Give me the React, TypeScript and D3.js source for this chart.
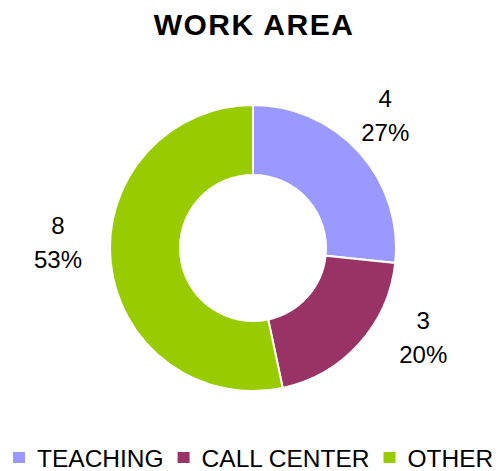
import React, { useEffect, useRef } from "react";
import * as d3 from "d3";

const categories = ["TEACHING", "CALL CENTER", "OTHER"];
const values = [4, 3, 8];
const colors = ["#9999FF", "#993366", "#99CC00"];
const title = "WORK AREA";

// layout constants
const W = 499;
const H = 471;
const CX = 253;
const CY = 248;
const R_OUT = 143;
const R_IN = 73;
const LABEL_R = 190;
const labelNudge: [number, number][] = [
  [-9, -14],
  [29, -46],
  [-6, -34],
];

export default function App() {
  const ref = useRef<SVGSVGElement | null>(null);

  useEffect(() => {
    document.body.style.margin = "0";
    const svg = d3.select(ref.current);
    svg.selectAll("*").remove();
    const font = "'Liberation Sans', Arial, sans-serif";

    svg
      .append("rect")
      .attr("width", W)
      .attr("height", H)
      .attr("fill", "#ffffff");

    svg
      .append("text")
      .attr("x", 254)
      .attr("y", 35)
      .attr("text-anchor", "middle")
      .attr("font-family", font)
      .attr("font-weight", "bold")
      .attr("font-size", 30)
      .attr("letter-spacing", 1.5)
      .attr("fill", "#000")
      .text(title);

    const total = d3.sum(values);
    const pie = d3
      .pie<number>()
      .sort(null)
      .value((d) => d);
    const arcs = pie(values);
    const arc = d3.arc<d3.PieArcDatum<number>>().innerRadius(R_IN).outerRadius(R_OUT);
    const labelArc = d3
      .arc<d3.PieArcDatum<number>>()
      .innerRadius(LABEL_R)
      .outerRadius(LABEL_R);

    const g = svg.append("g").attr("transform", `translate(${CX},${CY})`);
    g.selectAll("path")
      .data(arcs)
      .enter()
      .append("path")
      .attr("d", arc)
      .attr("fill", (_d, i) => colors[i])
      .attr("stroke", "#ffffff")
      .attr("stroke-width", 2);

    const lbl = g
      .selectAll("g.lbl")
      .data(arcs)
      .enter()
      .append("g")
      .attr("class", "lbl")
      .attr("transform", (d, i) => {
        const [x, y] = labelArc.centroid(d);
        return `translate(${x + labelNudge[i][0]},${y + labelNudge[i][1]})`;
      });
    lbl
      .append("text")
      .attr("text-anchor", "middle")
      .attr("font-family", font)
      .attr("font-size", 24)
      .attr("fill", "#000")
      .text((d) => String(d.data));
    lbl
      .append("text")
      .attr("y", 34)
      .attr("text-anchor", "middle")
      .attr("font-family", font)
      .attr("font-size", 24)
      .attr("fill", "#000")
      .text((d) => `${Math.round((d.data / total) * 100)}%`);

    // legend
    const leg = svg.append("g").attr("transform", "translate(13,0)");
    const items = leg
      .selectAll("g")
      .data(categories)
      .enter()
      .append("g");
    items
      .append("rect")
      .attr("y", 452)
      .attr("width", 12)
      .attr("height", 11)
      .attr("fill", (_d, i) => colors[i]);
    const texts = items
      .append("text")
      .attr("x", 24)
      .attr("y", 467)
      .attr("font-family", font)
      .attr("font-size", 24.5)
      .attr("fill", "#000")
      .text((d) => d);
    let x = 0;
    const widths: number[] = [];
    texts.each(function () {
      widths.push((this as SVGTextElement).getComputedTextLength());
    });
    items.attr("transform", (_d, i) => {
      const t = `translate(${x},0)`;
      x += 24 + widths[i] + 14;
      return t;
    });
  }, []);

  return <svg ref={ref} width={W} height={H} style={{ display: "block" }} />;
}
